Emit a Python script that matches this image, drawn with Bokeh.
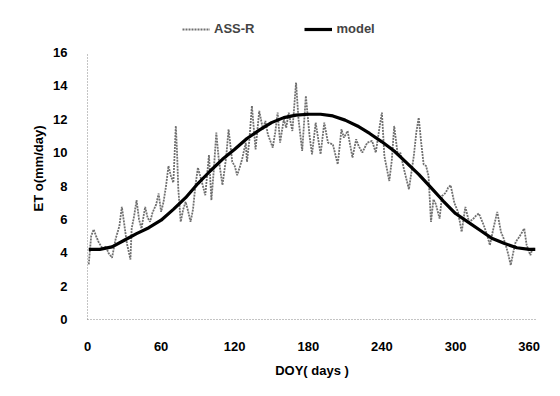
from bokeh.plotting import figure
from bokeh.models import Legend, LegendItem, FixedTicker, Range1d
from bokeh.embed import file_html
from bokeh.resources import INLINE

# ---- data ----
model_days = [1, 10, 20, 30, 40, 50, 60, 70, 80, 90, 100, 110, 120, 130, 140, 150, 160, 170, 180,
              190, 200, 210, 220, 230, 240, 250, 260, 270, 280, 290, 300, 310, 320, 330, 340, 350, 360, 365]
model_vals = [4.2, 4.2, 4.35, 4.75, 5.15, 5.5, 5.95, 6.6, 7.3, 8.15, 8.9, 9.6, 10.2, 10.85, 11.35, 11.8, 12.1, 12.25, 12.3,
              12.3, 12.2, 11.95, 11.6, 11.15, 10.65, 10.1, 9.4, 8.7, 7.9, 7.1, 6.35, 5.85, 5.35, 4.85, 4.55, 4.3, 4.2, 4.2]

assr_days = [1, 3, 5, 7, 9, 11, 13, 15, 17, 20, 23, 26, 28, 30, 32, 35, 36, 38, 40, 42, 44, 47, 49, 51, 53, 56, 58, 60,
             62, 64, 66, 68, 70, 72, 73, 74, 76, 78, 80, 82, 84, 86, 88, 90, 93, 96, 99, 101, 103, 105, 107, 110, 113,
             115, 118, 120, 122, 124, 126, 129, 130, 132, 134, 137, 140, 143, 145, 147, 151, 153, 155, 157, 160, 162,
             164, 167, 170, 172, 175, 178, 181, 183, 186, 190, 193, 196, 200, 204, 207, 209, 212, 216, 219, 221, 224,
             228, 232, 235, 238, 240, 242, 246, 248, 250, 253, 255, 258, 262, 264, 266, 268, 270, 272, 274, 276, 278,
             280, 282, 284, 287, 289, 292, 294, 296, 299, 302, 305, 308, 311, 314, 317, 319, 321, 323, 326, 328, 331,
             334, 337, 339, 341, 343, 345, 347, 349, 352, 354, 356, 358, 361, 363, 365]
assr_vals = [3.3, 5.0, 5.4, 5.0, 4.65, 4.4, 4.2, 4.4, 4.0, 3.7, 4.85, 5.6, 6.75, 5.7, 4.6, 3.6, 5.45, 6.2, 7.15, 6.0, 5.45,
             6.75, 6.1, 5.85, 6.4, 6.9, 7.55, 6.45, 7.05, 8.0, 9.2, 8.6, 8.2, 11.6, 10.0, 7.85, 5.85, 6.6, 7.05, 6.5,
             5.85, 6.6, 8.05, 9.1, 8.3, 7.45, 9.85, 7.15, 9.0, 11.2, 9.6, 8.05, 9.7, 11.4, 9.45, 9.2, 8.65, 9.1, 9.6,
             10.6, 9.45, 10.8, 12.8, 10.2, 12.5, 11.4, 11.9, 11.1, 10.3, 11.2, 12.4, 10.6, 12.0, 11.5, 12.4, 11.3,
             14.2, 12.0, 10.1, 13.4, 11.0, 9.9, 11.8, 9.9, 11.8, 10.6, 10.5, 9.3, 11.4, 10.9, 11.3, 9.7, 10.8, 10.4,
             10.0, 10.6, 10.7, 10.0, 11.5, 12.4, 9.8, 8.3, 9.5, 11.6, 9.8, 10.0, 9.0, 7.8, 8.8, 9.8, 11.2, 12.1, 10.6,
             9.3, 9.2, 8.6, 5.85, 7.2, 6.9, 6.05, 7.4, 7.6, 7.9, 8.05, 7.0, 6.45, 5.25, 6.75, 5.85, 6.0, 6.25, 6.35,
             6.0, 5.65, 5.0, 4.45, 5.5, 6.45, 5.25, 4.9, 4.45, 3.9, 3.25, 4.0, 4.65, 4.95, 5.2, 5.45, 4.45, 3.85,
             4.3, 4.15]

x_ticks = [0, 60, 120, 180, 240, 300, 360]
y_ticks = [0, 2, 4, 6, 8, 10, 12, 14, 16]

FONT = "Liberation Sans Narrow, Arial Narrow, Liberation Sans, Arial, sans-serif"

p = figure(width=544, height=380, output_backend="svg", toolbar_location=None,
           x_range=Range1d(0, 366), y_range=Range1d(0, 18.1),
           min_border_left=87, min_border_right=8, min_border_top=17, min_border_bottom=60)
p.outline_line_color = None
p.xgrid.grid_line_color = None
p.ygrid.grid_line_color = None
p.background_fill_color = "white"
p.border_fill_color = "white"

r_assr = p.line(assr_days, assr_vals, line_color="#707070", line_width=1.8, line_dash="2 1")
r_model = p.line(model_days, model_vals, line_color="black", line_width=3.2)

for ax in (p.xaxis[0], p.yaxis[0]):
    ax.axis_line_color = "#888888"
    ax.axis_line_dash = "1 2"
    ax.major_tick_line_color = None
    ax.minor_tick_line_color = None
    ax.major_label_text_font = FONT
    ax.major_label_text_font_style = "bold"
    ax.major_label_text_font_size = "13px"
    ax.major_label_text_color = "black"
    ax.axis_label_text_font = FONT
    ax.axis_label_text_font_style = "bold"
    ax.axis_label_text_font_size = "13px"
    ax.axis_label_text_color = "black"

p.yaxis[0].bounds = (0, 16)
p.xaxis[0].ticker = FixedTicker(ticks=x_ticks)
p.yaxis[0].ticker = FixedTicker(ticks=y_ticks)
p.xaxis[0].axis_label = "DOY( days )"
p.yaxis[0].axis_label = "ET o(mm/day)"
p.xaxis[0].major_label_standoff = 16
p.yaxis[0].major_label_standoff = 14
p.xaxis[0].axis_label_standoff = 9
p.yaxis[0].axis_label_standoff = 4

legend = Legend(items=[LegendItem(label="ASS-R", renderers=[r_assr]),
                       LegendItem(label="model", renderers=[r_model])],
                orientation="horizontal", location=(95, 283),
                glyph_width=28, glyph_height=14, label_standoff=4, spacing=50,
                padding=0, margin=0, border_line_color=None, background_fill_alpha=0,
                label_text_font=FONT, label_text_font_style="bold", label_text_font_size="13px")
p.add_layout(legend, "center")

open("out.html", "w").write(file_html(p, INLINE))
